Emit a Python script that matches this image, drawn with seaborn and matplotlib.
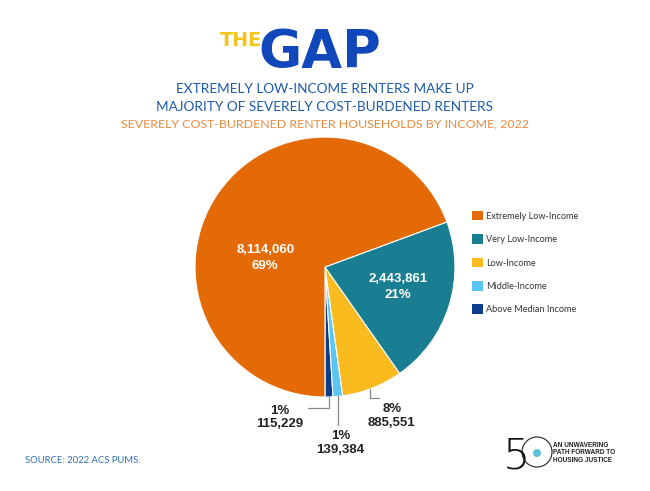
import numpy as np
import pandas as pd
import matplotlib
matplotlib.use("Agg")
import matplotlib.pyplot as plt
import seaborn as sns
from matplotlib.patches import Patch, Ellipse

# data
categories = ["Above Median Income", "Middle-Income", "Low-Income",
              "Very Low-Income", "Extremely Low-Income"]
households = [115229, 139384, 885551, 2443861, 8114060]
colors = ["#0D3D8E", "#5CC6F2", "#F9BB1E", "#1A7E92", "#E36A05"]
legend_order = ["Extremely Low-Income", "Very Low-Income", "Low-Income",
                "Middle-Income", "Above Median Income"]

df = pd.DataFrame({"group": categories, "n": households, "color": colors})
df["pct"] = df["n"] / df["n"].sum() * 100

sns.set_theme(style="white")
plt.rcParams["font.family"] = ["Lato", "DejaVu Sans"]

fig = plt.figure(figsize=(6.5, 4.91), dpi=100)
fig.patch.set_facecolor("white")

# pie axes: centre ~ (325, 267) px, radius ~130 px
ax = fig.add_axes([0.30, 0.1914, 0.40, 0.5295])
wedges, _ = ax.pie(df["n"], colors=df["color"], startangle=270, counterclock=True,
                   wedgeprops=dict(edgecolor="white", linewidth=0.8), radius=1)
ax.set_xlim(-1, 1)
ax.set_ylim(-1, 1)
ax.set_aspect("equal")
ax.axis("off")

def fmt(i):
    return f"{df['n'][i]:,}", f"{df['pct'][i]:.0f}%"

def edge_pt(i, frac=0.5, r=1.0):
    w = wedges[i]
    a = np.deg2rad(w.theta1 + (w.theta2 - w.theta1) * frac)
    return r * np.cos(a), r * np.sin(a)

lab_font = dict(family=["Liberation Sans", "DejaVu Sans"], fontweight="bold", fontsize=9.5)

# inside labels
n, p = fmt(4)
ax.text(-0.46, 0.07, f"{n}\n{p}", color="white", ha="center", va="center",
        linespacing=1.5, **lab_font)
n, p = fmt(3)
ax.text(0.56, -0.15, f"{n}\n{p}", color="white", ha="center", va="center",
        linespacing=1.45, **lab_font)

line_kw = dict(color="#888888", lw=0.9, clip_on=False)

# Low-Income leader
n, p = fmt(2)
x, y = edge_pt(2, 0.45, 1.0)
ax.plot([x, x, x + 0.07], [y, y - 0.07, y - 0.07], **line_kw)
ax.text(x + 0.17, y - 0.11, f"{p}\n{n}", color="#222222", ha="center", va="top",
        linespacing=1.15, clip_on=False, **lab_font)

# Above Median leader
n, p = fmt(0)
x, y = edge_pt(0, 0.5, 1.0)
ax.plot([x, x, x - 0.16], [y, y - 0.085, y - 0.085], **line_kw)
ax.text(x - 0.38, y - 0.06, f"{p}\n{n}", color="#222222", ha="center", va="top",
        linespacing=1.15, clip_on=False, **lab_font)

# Middle-Income leader
n, p = fmt(1)
x, y = edge_pt(1, 0.5, 1.0)
ax.plot([x, x], [y, y - 0.22], **line_kw)
ax.text(x + 0.02, y - 0.26, f"{p}\n{n}", color="#222222", ha="center", va="top",
        linespacing=1.15, clip_on=False, **lab_font)

# legend
handles = [Patch(facecolor=df.set_index("group").loc[g, "color"], edgecolor="none")
           for g in legend_order]
fig.legend(handles, legend_order, loc="upper left", bbox_to_anchor=(0.713, 0.587),
           frameon=False, fontsize=6.6, handlelength=1.2, handleheight=1.2,
           handletextpad=0.4, labelspacing=1.48, labelcolor="#333333")

# titles
title_font = ["DejaVu Sans"]
fig.text(0.404, 0.906, "THE", color="#F6C21C", fontsize=13.8, fontweight="bold",
         family=title_font, ha="right", va="baseline")
fig.text(0.398, 0.862, "GAP", color="#1047BB", fontsize=38, fontweight="bold",
         family=title_font, ha="left", va="baseline")
fig.text(0.5, 0.819, "EXTREMELY LOW-INCOME RENTERS MAKE UP", color="#1D5AAE",
         fontsize=9.8, ha="center", va="center")
fig.text(0.5, 0.783, "MAJORITY OF SEVERELY COST-BURDENED RENTERS", color="#1D5AAE",
         fontsize=9.8, ha="center", va="center")
fig.text(0.5, 0.747, "SEVERELY COST-BURDENED RENTER HOUSEHOLDS BY INCOME, 2022",
         color="#E98A3C", fontsize=8.9, ha="center", va="center")

fig.text(0.038, 0.063, "SOURCE: 2022 ACS PUMS.", color="#2E6DB4", fontsize=6.8,
         ha="left", va="center")

# logo
fig.text(0.774, 0.046, "5", color="#111111", fontsize=31, fontweight="ultralight",
         family=["DejaVu Sans"], ha="left", va="baseline")
fig.patches.append(Ellipse((537 / 650, 1 - 452 / 491), 30 / 650, 30 / 491,
                           transform=fig.transFigure, facecolor="none",
                           edgecolor="#222222", lw=0.8))
fig.patches.append(Ellipse((537 / 650, 1 - 453 / 491), 8 / 650, 8 / 491,
                           transform=fig.transFigure, facecolor="#5BC0DE",
                           edgecolor="none"))
fig.text(0.851, 0.0775, "AN UNWAVERING\nPATH FORWARD TO\nHOUSING JUSTICE", color="#222222",
         fontsize=4.7, fontweight="bold", ha="left", va="center", linespacing=1.15,
         family=["Liberation Sans", "DejaVu Sans"])

fig.savefig("out.png", dpi=100, facecolor="white")
